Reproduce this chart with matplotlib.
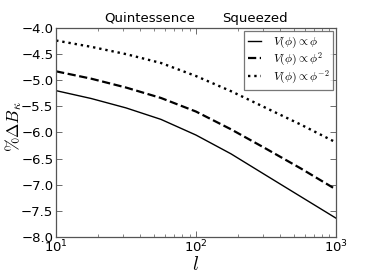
import numpy as np
import matplotlib
matplotlib.use("Agg")
import matplotlib.pyplot as plt

plt.rcParams['mathtext.fontset'] = 'cm'
plt.rcParams['font.family'] = ['DejaVu Sans']

ell = [10, 17.8, 31.6, 56.2, 100, 178, 316, 562, 1000]
dB_linear = [-5.20, -5.35, -5.53, -5.75, -6.05, -6.41, -6.82, -7.23, -7.64]
dB_quadratic = [-4.83, -4.97, -5.14, -5.34, -5.60, -5.94, -6.31, -6.69, -7.09]
dB_inverse = [-4.24, -4.36, -4.50, -4.67, -4.92, -5.21, -5.53, -5.85, -6.19]
labels = [r'$V(\phi)\propto\phi$', r'$V(\phi)\propto\phi^2$', r'$V(\phi)\propto\phi^{-2}$']
yticks = [-8.0, -7.5, -7.0, -6.5, -6.0, -5.5, -5.0, -4.5, -4.0]

fig = plt.figure(figsize=(3.74, 2.80), dpi=100)
ax = fig.add_axes([0.150, 0.154, 0.748, 0.746])

ax.plot(ell, dB_linear, 'k-', lw=1.0, label=labels[0])
ax.plot(ell, dB_quadratic, 'k--', lw=1.6, label=labels[1])
ax.plot(ell, dB_inverse, 'k:', lw=1.7, label=labels[2])

ax.set_xscale('log')
ax.set_xlim(10, 1000)
ax.set_ylim(-8.0, -4.0)
ax.set_yticks(yticks)
ax.set_yticklabels([f'{v:.1f}'.replace('-', '\u2212') for v in yticks])

ax.tick_params(which='both', direction='in', top=True, right=True, labelsize=9.5,
               color='#555555')
ax.tick_params(axis='y', pad=2)
ax.tick_params(axis='x', pad=1)
ax.tick_params(which='major', length=4, width=0.6)
ax.tick_params(which='minor', length=2, width=0.5)
for s in ax.spines.values():
    s.set_linewidth(0.9)
    s.set_color('#555555')

ax.set_xlabel(r'$l$', fontsize=14)
ax.xaxis.set_label_coords(0.5, -0.085)
ax.set_ylabel(r'$\%\Delta B_\kappa$', fontsize=12.5)
ax.yaxis.set_label_coords(-0.115, 0.53)

ax.text(0.334, 1.015, 'Quintessence', transform=ax.transAxes, ha='center', va='bottom', fontsize=9.5)
ax.text(0.709, 1.015, 'Squeezed', transform=ax.transAxes, ha='center', va='bottom', fontsize=9.5)

leg = ax.legend(loc='upper right', fontsize=8.5, frameon=True, fancybox=False,
                handlelength=1.1, handletextpad=1.0, borderpad=0.3,
                labelspacing=0.08, borderaxespad=0.25)
leg.get_frame().set_edgecolor('#555555')
leg.get_frame().set_linewidth(0.9)

fig.savefig('out.png', dpi=100)
